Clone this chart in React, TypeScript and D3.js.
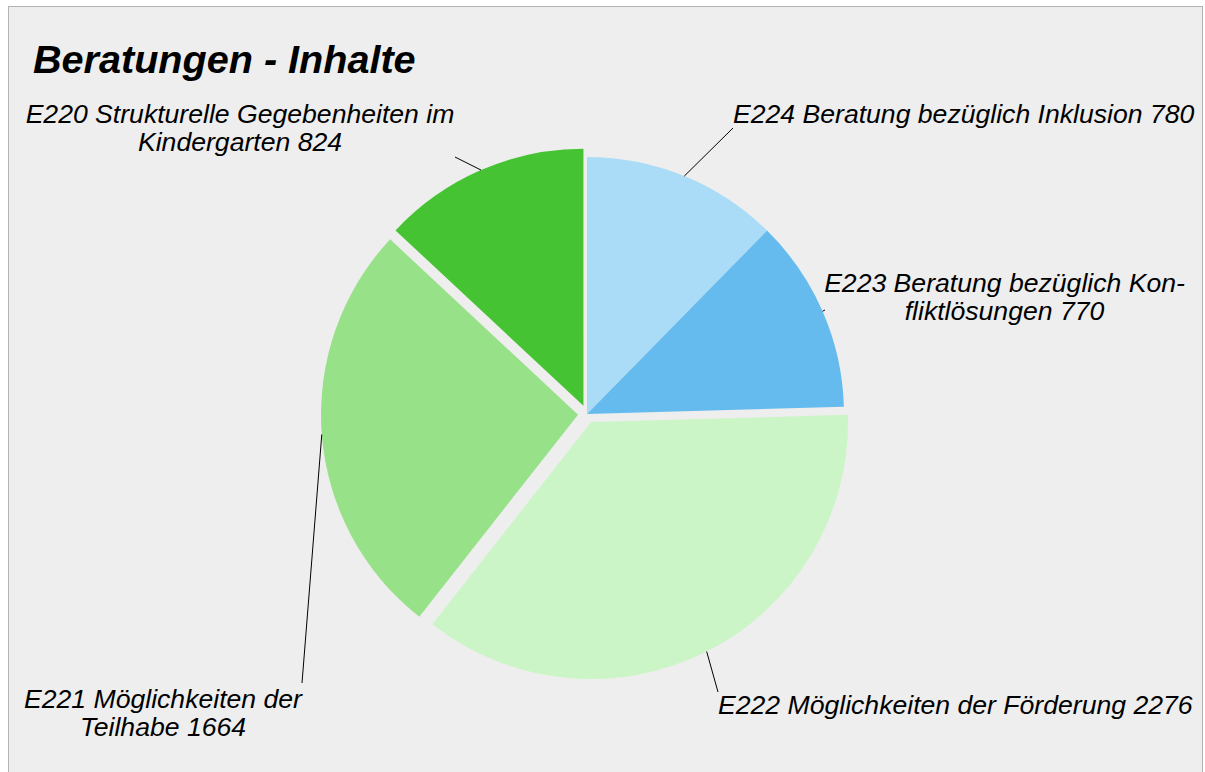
import React from "react";
import * as d3 from "d3";

const categories = [
  "E224 Beratung bezüglich Inklusion",
  "E223 Beratung bezüglich Konfliktlösungen",
  "E222 Möglichkeiten der Förderung",
  "E221 Möglichkeiten der Teilhabe",
  "E220 Strukturelle Gegebenheiten im Kindergarten",
];
const values = [780, 770, 2276, 1664, 824];
const labelLines = [
  ["E224 Beratung bezüglich Inklusion 780"],
  ["E223 Beratung bezüglich Kon-", "fliktlösungen 770"],
  ["E222 Möglichkeiten der Förderung 2276"],
  ["E221 Möglichkeiten der", "Teilhabe 1664"],
  ["E220 Strukturelle Gegebenheiten im", "Kindergarten 824"],
];
const title = "Beratungen - Inhalte";

// styles / layout (kept separate from data)
const colors = ["#aadcf7", "#66bbee", "#ccf5c7", "#97e188", "#45c332"];
const explode = [0, 0, 9, 9, 9];
const labelLayout = [
  { x: 733, y: 123, anchor: "start", end: [733, 128] },
  { x: 1004.5, y: 292, anchor: "middle", end: [825, 310] },
  { x: 718, y: 714, anchor: "start", end: [718, 692] },
  { x: 163, y: 708, anchor: "middle", end: [302, 683] },
  { x: 240, y: 123, anchor: "middle", end: [455, 157] },
];

const W = 1205;
const H = 772;
const cx = 587;
const cy = 414;
const R = 257;
const font = "'Liberation Sans', Arial, sans-serif";

export default function App() {
  const pie = d3
    .pie<number>()
    .sort(null)
    .value((d) => d)
    .startAngle(0)
    .endAngle(2 * Math.PI);
  const arcs = pie(values);
  const arcGen = d3.arc<d3.PieArcDatum<number>>().innerRadius(0).outerRadius(R);

  return (
    <svg
      width={W}
      height={H}
      style={{ position: "absolute", left: 0, top: 0 }}
      xmlns="http://www.w3.org/2000/svg"
    >
      <rect x={0} y={0} width={W} height={H} fill="#ffffff" />
      <rect x={8.5} y={6.5} width={1194} height={780} fill="#eeeeee" stroke="#b3b3b3" strokeWidth={1} />
      <text
        x={33}
        y={73}
        fontFamily={font}
        fontSize={39.6}
        fontWeight="bold"
        fontStyle="italic"
        fill="#000"
      >
        {title}
      </text>
      {arcs.map((a, i) => {
        const mid = (a.startAngle + a.endAngle) / 2;
        const ox = Math.sin(mid) * explode[i];
        const oy = -Math.cos(mid) * explode[i];
        const px = cx + ox + Math.sin(mid) * R;
        const py = cy + oy - Math.cos(mid) * R;
        const lay = labelLayout[i];
        return (
          <g key={categories[i]}>
            <path
              d={arcGen(a) || ""}
              transform={`translate(${cx + ox},${cy + oy})`}
              fill={colors[i]}
            />
            <line
              x1={px}
              y1={py}
              x2={lay.end[0]}
              y2={lay.end[1]}
              stroke="#000"
              strokeWidth={1}
            />
          </g>
        );
      })}
      {labelLayout.map((lay, i) => (
        <text
          key={"l" + i}
          x={lay.x}
          y={lay.y}
          textAnchor={lay.anchor as any}
          fontFamily={font}
          fontSize={26.6}
          fontStyle="italic"
          fill="#000"
        >
          {labelLines[i].map((t, j) => (
            <tspan key={j} x={lay.x} dy={j === 0 ? 0 : 28.3}>
              {t}
            </tspan>
          ))}
        </text>
      ))}
    </svg>
  );
}
